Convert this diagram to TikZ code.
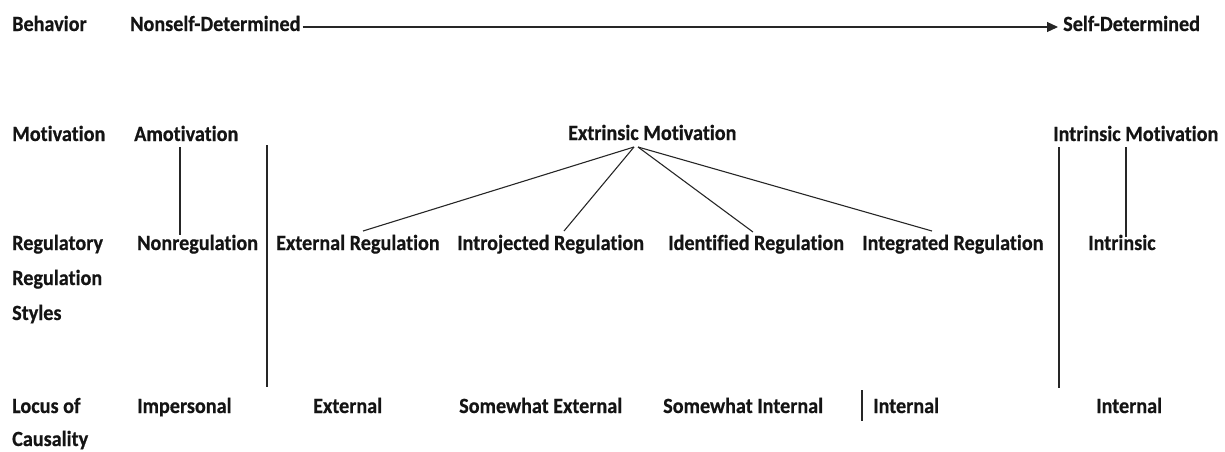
\documentclass[tikz,border=0pt]{standalone}
\usepackage{fontspec}
\setmainfont{Carlito}[FakeStretch=0.93, Ligatures=CommonOff, BoldFeatures={FakeBold=0.6}]
\usetikzlibrary{arrows.meta}
\tikzset{
  lbl/.style={anchor=base west, inner sep=0pt, font=\fontsize{21.7}{26}\selectfont\bfseries, text=black!92},
  link/.style={draw=black!85, line width=1.1pt},
}
\begin{document}
\begin{tikzpicture}[x=1pt, y=-1pt]
\useasboundingbox (0,0) rectangle (1225,451);

% row labels
\node[lbl] (behav) at (12,31) {Behavior};
\node[lbl] (motl)  at (12,141) {Motivation};
\node[lbl] (regl)  at (12,250) {Regulatory};
\node[lbl] (regl2) at (12,285) {Regulation};
\node[lbl] (regl3) at (12,320) {Styles};
\node[lbl] (locl)  at (12,413) {Locus of};
\node[lbl] (caus)  at (12,446) {Causality};

% behaviour continuum
\node[lbl] (nsd) at (130,31) {Nonself-Determined};
\node[lbl] (sd)  at (1063,31) {Self-Determined};

% motivation types
\node[lbl] (amot)   at (134,141) {Amotivation};
\node[lbl] (extmot) at (568,140) {Extrinsic Motivation};
\node[lbl] (intmot) at (1053,141) {Intrinsic Motivation};

% regulation styles
\node[lbl] (nonreg)    at (137,250) {Nonregulation};
\node[lbl] (extreg)    at (276,250) {External Regulation};
\node[lbl] (introreg)  at (457,250) {Introjected Regulation};
\node[lbl] (identreg)  at (668,250) {Identified Regulation};
\node[lbl] (integreg)  at (862,250) {Integrated Regulation};
\node[lbl] (intr)      at (1088,250) {Intrinsic};

% locus of causality
\node[lbl] (imp)   at (137,413) {Impersonal};
\node[lbl] (ext)   at (313,413) {External};
\node[lbl] (swext) at (459,413) {Somewhat External};
\node[lbl] (swint) at (663,413) {Somewhat Internal};
\node[lbl] (int1)  at (873,413) {Internal};
\node[lbl] (int2)  at (1096,413) {Internal};

% continuum arrow
\draw[link, -{Triangle[length=11pt,width=10pt]}]
  ([shift={(2pt,4pt)}]nsd.base east) -- ([shift={(-5pt,4pt)}]sd.base west);

% amotivation branch
\draw[link] ([shift={(46pt,-6pt)}]amot.base west) -- ([shift={(43pt,15pt)}]nonreg.base west);

% separator between amotivation and extrinsic motivation
\coordinate (divAtop) at (267,145);
\coordinate (divAbot) at (267,387);
\draw[link] (divAtop) -- (divAbot);

% extrinsic motivation fan
\coordinate (apexL) at ([shift={(66pt,-7pt)}]extmot.base west);
\coordinate (apexR) at ([shift={(70pt,-7pt)}]extmot.base west);
\draw[link] (apexL) -- ([shift={(87pt,19pt)}]extreg.base west);
\draw[link] (apexL) -- ([shift={(107pt,19pt)}]introreg.base west);
\draw[link] (apexR) -- ([shift={(85pt,18pt)}]identreg.base west);
\draw[link] (apexR) -- ([shift={(70pt,19pt)}]integreg.base west);

% intrinsic motivation branch and separator
\coordinate (divBbot) at (1059,388);
\draw[link] ([shift={(6pt,-6pt)}]intmot.base west) -- (divBbot);
\draw[link] ([shift={(73pt,-6pt)}]intmot.base west) -- ([shift={(38pt,13pt)}]intr.base west);

% short mark before the first "Internal"
\draw[link] ([shift={(-11pt,23pt)}]int1.base west) -- ([shift={(-11pt,-8pt)}]int1.base west);
\end{tikzpicture}
\end{document}
